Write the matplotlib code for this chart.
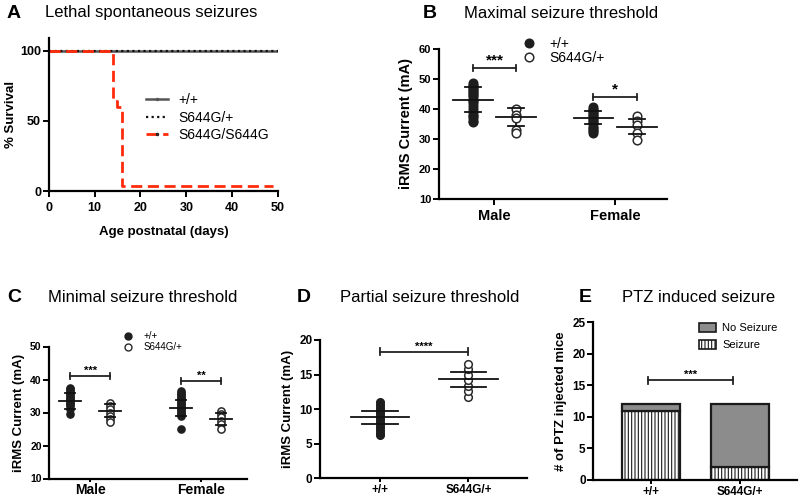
import numpy as np
import matplotlib
matplotlib.use("Agg")
import matplotlib.pyplot as plt
from matplotlib.lines import Line2D
from matplotlib.patches import Patch

plt.rcParams['font.family'] = ['Liberation Sans', 'DejaVu Sans']
plt.rcParams['hatch.linewidth'] = 0.8

# ---- data ----
# A: survival curves
days_wt = [0, 50]
surv_wt = [100, 100]
days_het = [0, 50]
surv_het = [100, 100]
days_hom = [0, 14, 15, 16, 49]
surv_hom = [100, 64, 60, 4, 4]
survival_labels = ["+/+", "S644G/+", "S644G/S644G"]

# B: maximal seizure threshold (mA)
sex_groups = ["Male", "Female"]
max_wt_male = [35.5, 36, 37, 37.5, 38, 39, 40, 41, 42, 42.5, 43, 44, 44.5, 45, 45.5, 46, 46.5, 47, 47.5, 48, 48.5]
max_het_male = [40, 38, 37, 33, 32]
max_wt_female = [32, 32.5, 33, 33.5, 34, 35, 35.5, 36, 36.5, 37, 37.5, 38, 38.5, 39, 39.5, 40, 40.5]
max_het_female = [37.5, 36, 34.5, 32, 29.5]
max_mean = [[43, 37.2], [37, 34]]
max_sd = [[4.1, 3.0], [2.2, 2.5]]
max_sig = ["***", "*"]
max_sig_y = [53.6, 44]

# C: minimal seizure threshold (mA)
min_wt_male = [29.5, 31, 32, 32.5, 33, 33.5, 34, 34.5, 35, 35.5, 36, 36.5, 37, 37.5]
min_het_male = [33, 32, 31, 30, 29, 28, 27]
min_wt_female = [25, 29, 29.5, 30, 30.5, 31, 31.5, 32, 32.5, 33, 33.5, 34, 34.5, 35, 35.5, 36, 36.5]
min_het_female = [30.5, 29.5, 28.5, 27.5, 26.5, 25]
min_mean = [[33.5, 30.5], [31.3, 28]]
min_sd = [[2.5, 2.0], [2.4, 1.8]]
min_sig = ["***", "**"]
min_sig_y = [41.1, 39.6]

# D: partial seizure threshold (mA)
genotypes = ["+/+", "S644G/+"]
part_wt = [6.2, 6.6, 7.0, 7.4, 7.8, 8.2, 8.6, 9.0, 9.4, 9.8, 10.2, 10.6, 11.0]
part_het = [11.8, 12.6, 13.4, 14.2, 15.0, 15.8, 16.6]
part_mean = [8.8, 14.3]
part_sd = [0.95, 1.1]
part_sig_y = 18.3

# E: PTZ induced seizure (counts)
ptz_seizure = [11, 2]
ptz_no_seizure = [1, 10]
ptz_sig_y = 15.8

W, H = 800, 499


def box(l, t, r, b):
    return [l / W, 1 - b / H, (r - l) / W, (b - t) / H]


def style(ax, tick_size=8):
    for s in ['top', 'right']:
        ax.spines[s].set_visible(False)
    for s in ['left', 'bottom']:
        ax.spines[s].set_linewidth(1.6)
    ax.tick_params(width=1.4, length=4, labelsize=tick_size, pad=1.5)
    for lab in ax.get_xticklabels() + ax.get_yticklabels():
        lab.set_fontweight('bold')


def xlabels_bold(ax, size, pad, length=3):
    ax.tick_params(axis='x', labelsize=size, pad=pad, length=length)
    for lab in ax.get_xticklabels():
        lab.set_fontweight('bold')


def scatter_group(ax, x, vals, mean, sd, filled, ms, mw=0.2, sw=0.08):
    xs = np.full(len(vals), x)
    if filled:
        ax.plot(xs, vals, 'o', color='#1e1e1e', ms=ms, zorder=3, clip_on=False)
    else:
        ax.plot(xs, vals, 'o', mfc='white', mec='#2a2a2a', mew=1.1, ms=ms, zorder=3, clip_on=False)
    ax.plot([x - mw, x + mw], [mean, mean], color='#111111', lw=1.3, zorder=4)
    ax.plot([x - sw, x + sw], [mean + sd, mean + sd], color='#111111', lw=1.3, zorder=4)
    ax.plot([x - sw, x + sw], [mean - sd, mean - sd], color='#111111', lw=1.3, zorder=4)
    ax.plot([x, x], [mean - sd, mean + sd], color='#111111', lw=1.3, zorder=2)


def sig_bar(ax, x0, x1, y, label, cap, size=10):
    ax.plot([x0, x1], [y, y], color='#222222', lw=1.3)
    ax.plot([x0, x0], [y - cap, y + cap], color='#222222', lw=1.3)
    ax.plot([x1, x1], [y - cap, y + cap], color='#222222', lw=1.3)
    ax.text((x0 + x1) / 2, y, label, ha='center', va='bottom', fontsize=size, fontweight='bold')


fig = plt.figure(figsize=(8, 4.99), dpi=100)


def panel_title(letter, lx, tx, y, title):
    fig.text(lx / W, 1 - y / H, letter, fontsize=14, fontweight='bold', va='center')
    fig.text(tx / W, 1 - y / H, title, fontsize=12, va='center')


# ---- A ----
axA = fig.add_axes(box(48.7, 38, 278, 191.3))
axA.step(days_wt, surv_wt, where='post', color='#555555', lw=1.8)
axA.step(days_het, surv_het, where='post', color='#111111', lw=1.6, ls=(0, (1, 1.5)))
axA.step(days_hom, surv_hom, where='post', color='#ff2a0a', lw=2, ls=(0, (4, 2)))
axA.set_xlim(0, 50)
axA.set_ylim(0, 109)
axA.set_xticks([0, 10, 20, 30, 40, 50])
axA.set_yticks([0, 50, 100])
axA.set_ylabel("% Survival", fontsize=9.5, fontweight='bold', labelpad=2)
axA.set_xlabel("Age postnatal (days)", fontsize=9.5, fontweight='bold', labelpad=8)
style(axA, 9)
axA.tick_params(axis='x', pad=4)
hA = [Line2D([], [], color='#555555', lw=1.8, marker='.', ms=3),
      Line2D([], [], color='#111111', lw=1.6, ls=(0, (1, 1.5))),
      Line2D([], [], color='#ff2a0a', lw=2, ls=(0, (4, 2)), marker='.', ms=3, mec='#222222')]
axA.legend(hA, survival_labels, loc='center left', bbox_to_anchor=(0.37, 0.48), frameon=False,
           fontsize=10, handlelength=1.6, handletextpad=0.7, labelspacing=0.25)
panel_title("A", 7, 45, 13, "Lethal spontaneous seizures")

# ---- B ----
axB = fig.add_axes(box(439, 48.7, 667, 199))
off = 0.18
scatter_group(axB, 0 - off, max_wt_male, max_mean[0][0], max_sd[0][0], True, 6.2, 0.165, 0.066)
scatter_group(axB, 0 + off, max_het_male, max_mean[0][1], max_sd[0][1], False, 6.2, 0.165, 0.066)
scatter_group(axB, 1 - off, max_wt_female, max_mean[1][0], max_sd[1][0], True, 6.2, 0.165, 0.066)
scatter_group(axB, 1 + off, max_het_female, max_mean[1][1], max_sd[1][1], False, 6.2, 0.165, 0.066)
for i in range(2):
    sig_bar(axB, i - off, i + off, max_sig_y[i], max_sig[i], 1.0, 11)
axB.set_xlim(-0.46, 1.43)
axB.set_ylim(10, 60)
axB.set_xticks([0, 1])
axB.set_xticklabels(sex_groups)
axB.set_yticks([10, 20, 30, 40, 50, 60])
axB.set_ylabel("iRMS Current (mA)", fontsize=10.5, fontweight='bold', labelpad=4)
style(axB, 8)
xlabels_bold(axB, 10.5, 3, 4)
hB = [Line2D([], [], ls='none', marker='o', color='#1e1e1e', ms=6.2),
      Line2D([], [], ls='none', marker='o', mfc='white', mec='#2a2a2a', mew=1.1, ms=6.2)]
axB.legend(hB, genotypes, loc='upper left', bbox_to_anchor=(0.308, 1.117), frameon=False,
           fontsize=10, handletextpad=0.5, labelspacing=0.0, borderaxespad=0)
panel_title("B", 423, 464, 13, "Maximal seizure threshold")

# ---- C ----
axC = fig.add_axes(box(49.3, 346.5, 246.7, 478.5))
off = 0.18
scatter_group(axC, 0 - off, min_wt_male, min_mean[0][0], min_sd[0][0], True, 5.2, 0.1, 0.045)
scatter_group(axC, 0 + off, min_het_male, min_mean[0][1], min_sd[0][1], False, 5.2, 0.1, 0.045)
scatter_group(axC, 1 - off, min_wt_female, min_mean[1][0], min_sd[1][0], True, 5.2, 0.1, 0.045)
scatter_group(axC, 1 + off, min_het_female, min_mean[1][1], min_sd[1][1], False, 5.2, 0.1, 0.045)
for i in range(2):
    sig_bar(axC, i - off, i + off, min_sig_y[i], min_sig[i], 1.0, 8)
axC.set_xlim(-0.37, 1.41)
axC.set_ylim(10, 50)
axC.set_xticks([0, 1])
axC.set_xticklabels(sex_groups)
axC.set_yticks([10, 20, 30, 40, 50])
axC.set_ylabel("iRMS Current (mA)", fontsize=9.5, fontweight='bold', labelpad=4)
style(axC, 7.5)
xlabels_bold(axC, 10, 0.5, 2.5)
hC = [Line2D([], [], ls='none', marker='o', color='#1e1e1e', ms=5),
      Line2D([], [], ls='none', marker='o', mfc='white', mec='#2a2a2a', mew=1.0, ms=5)]
axC.legend(hC, genotypes, loc='upper left', bbox_to_anchor=(0.33, 1.147), frameon=False,
           fontsize=7, handletextpad=0.6, labelspacing=0.1, borderaxespad=0)
panel_title("C", 7, 48, 297, "Minimal seizure threshold")

# ---- D ----
axD = fig.add_axes(box(320, 340, 526.7, 478.3))
scatter_group(axD, 0, part_wt, part_mean[0], part_sd[0], True, 5.5, 0.33, 0.2)
scatter_group(axD, 1, part_het, part_mean[1], part_sd[1], False, 5.5, 0.33, 0.2)
sig_bar(axD, 0, 1, part_sig_y, "****", 0.5, 8)
axD.set_xlim(-0.68, 1.66)
axD.set_ylim(0, 20)
axD.set_xticks([0, 1])
axD.set_xticklabels(genotypes)
axD.set_yticks([0, 5, 10, 15, 20])
axD.set_ylabel("iRMS Current (mA)", fontsize=9.5, fontweight='bold', labelpad=4)
style(axD, 8.5)
xlabels_bold(axD, 8.5, 1, 3)
panel_title("D", 297, 340, 297, "Partial seizure threshold")

# ---- E ----
axE = fig.add_axes(box(593.3, 322.3, 796.7, 480))
xE = np.arange(len(genotypes))
axE.bar(xE, ptz_seizure, width=0.66, color='white', edgecolor='#1a1a1a', lw=1.6, hatch='|||||')
axE.bar(xE, ptz_no_seizure, width=0.66, bottom=ptz_seizure, color='#8c8c8c', edgecolor='#1a1a1a', lw=1.6)
sig_bar(axE, -0.03, 0.92, ptz_sig_y, "***", 0.6, 8)
axE.set_xlim(-0.65, 1.64)
axE.set_ylim(0, 25)
axE.set_xticks(xE)
axE.set_xticklabels(genotypes)
axE.set_yticks([0, 5, 10, 15, 20, 25])
axE.set_ylabel("# of PTZ injected mice", fontsize=9.5, fontweight='bold', labelpad=4)
style(axE, 8.5)
xlabels_bold(axE, 8.5, 1, 3)
hE = [Patch(facecolor='#8c8c8c', edgecolor='#1a1a1a', lw=1.2),
      Patch(facecolor='white', edgecolor='#1a1a1a', lw=1.2, hatch='|||||')]
axE.legend(hE, ["No Seizure", "Seizure"], loc='upper left', bbox_to_anchor=(0.47, 1.06), frameon=False,
           fontsize=8, handlelength=1.5, handleheight=0.9, handletextpad=0.6, labelspacing=0.6)
panel_title("E", 579, 622, 297, "PTZ induced seizure")

fig.savefig("out.png", dpi=100)
